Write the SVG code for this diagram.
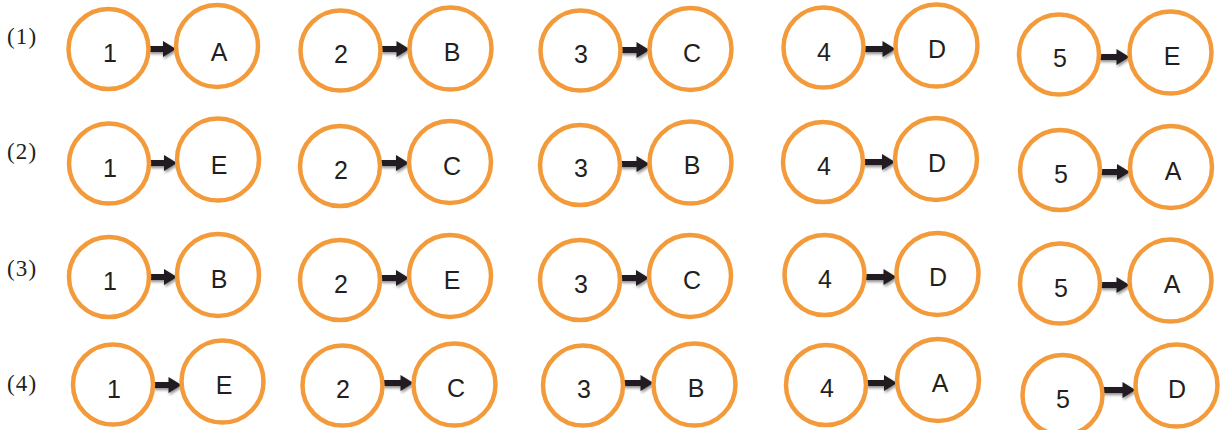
<svg xmlns="http://www.w3.org/2000/svg" width="1221" height="430" viewBox="0 0 1221 430">
<style>
.c{fill:#fff;stroke:#F39A3B;stroke-width:4.5}
.t{font-family:"Liberation Sans","Open Sans",sans-serif;font-size:25px;fill:#231F20;text-anchor:middle}
.lbl{font-family:"Liberation Serif","Times New Roman",serif;font-size:23px;fill:#231F20;letter-spacing:1.2px}
.a{fill:#231F20;filter:url(#sh)}
</style>
<defs>
<filter id="sh" x="-30%" y="-60%" width="160%" height="240%">
<feDropShadow dx="1" dy="2" stdDeviation="1.5" flood-color="#000" flood-opacity="0.45"/>
</filter>
</defs>
<g id="labels">
<text class="lbl" x="7" y="44">(1)</text>
<text class="lbl" x="7" y="159">(2)</text>
<text class="lbl" x="7" y="276">(3)</text>
<text class="lbl" x="7" y="391">(4)</text>
</g>
<g id="connectors">
<path class="a" d="M148.5 46H163V41L176 49L163 57V52H148.5Z"/>
<path class="a" d="M380.5 46H396.5V41L409.5 49L396.5 57V52H380.5Z"/>
<path class="a" d="M620.5 47H636.5V42L649.5 50L636.5 58V53H620.5Z"/>
<path class="a" d="M863.5 46H882.5V41L895.5 49L882.5 57V52H863.5Z"/>
<path class="a" d="M1099 54H1116.5V49L1129.5 57L1116.5 65V60H1099Z"/>
<path class="a" d="M149 160H164V155L177 163L164 171V166H149Z"/>
<path class="a" d="M380 160H396V155L409 163L396 171V166H380Z"/>
<path class="a" d="M620 161H636.5V156L649.5 164L636.5 172V167H620Z"/>
<path class="a" d="M863 159H882V154L895 162L882 170V165H863Z"/>
<path class="a" d="M1100 169H1117V164L1130 172L1117 180V175H1100Z"/>
<path class="a" d="M149 274H164V269L177 277L164 285V280H149Z"/>
<path class="a" d="M380 275H396V270L409 278L396 286V281H380Z"/>
<path class="a" d="M620 275H636V270L649 278L636 286V281H620Z"/>
<path class="a" d="M864.5 274H883.5V269L896.5 277L883.5 285V280H864.5Z"/>
<path class="a" d="M1100 282H1116.5V277L1129.5 285L1116.5 293V288H1100Z"/>
<path class="a" d="M153 382H168.5V377L181.5 385L168.5 393V388H153Z"/>
<path class="a" d="M382.5 380H400.5V375L413.5 383L400.5 391V386H382.5Z"/>
<path class="a" d="M623 380H640.5V375L653.5 383L640.5 391V386H623Z"/>
<path class="a" d="M866 380H884V375L897 383L884 391V386H866Z"/>
<path class="a" d="M1102.5 387H1122.5V382L1135.5 390L1122.5 398V393H1102.5Z"/>
</g>
<g id="r1n1"><circle class="c" cx="108.5" cy="49" r="40"/><text class="t" x="110" y="62">1</text></g>
<g id="r1A"><circle class="c" cx="217" cy="46" r="41"/><text class="t" x="219" y="61">A</text></g>
<g id="r1n2"><circle class="c" cx="340.5" cy="50.5" r="40"/><text class="t" x="341" y="63">2</text></g>
<g id="r1B"><circle class="c" cx="450.5" cy="48.5" r="41"/><text class="t" x="452" y="61">B</text></g>
<g id="r1n3"><circle class="c" cx="580.5" cy="50.5" r="40"/><text class="t" x="581" y="63">3</text></g>
<g id="r1C"><circle class="c" cx="690.5" cy="49" r="41"/><text class="t" x="692" y="62">C</text></g>
<g id="r1n4"><circle class="c" cx="823.5" cy="47.5" r="40"/><text class="t" x="824" y="61">4</text></g>
<g id="r1D"><circle class="c" cx="936.5" cy="45.5" r="41"/><text class="t" x="937" y="58">D</text></g>
<g id="r1n5"><circle class="c" cx="1059" cy="54.5" r="40"/><text class="t" x="1060" y="67">5</text></g>
<g id="r1E"><circle class="c" cx="1170.5" cy="52.5" r="41"/><text class="t" x="1172" y="65">E</text></g>
<g id="r2n1"><circle class="c" cx="109" cy="163.5" r="40"/><text class="t" x="110" y="177">1</text></g>
<g id="r2E"><circle class="c" cx="218" cy="159.5" r="41"/><text class="t" x="219" y="174">E</text></g>
<g id="r2n2"><circle class="c" cx="340" cy="166" r="40"/><text class="t" x="341" y="179">2</text></g>
<g id="r2C"><circle class="c" cx="450" cy="162" r="41"/><text class="t" x="452" y="175">C</text></g>
<g id="r2n3"><circle class="c" cx="580" cy="165" r="40"/><text class="t" x="581" y="177">3</text></g>
<g id="r2B"><circle class="c" cx="690.5" cy="162.5" r="41"/><text class="t" x="692" y="174">B</text></g>
<g id="r2n4"><circle class="c" cx="823" cy="162" r="40"/><text class="t" x="824" y="175">4</text></g>
<g id="r2D"><circle class="c" cx="936" cy="159" r="41"/><text class="t" x="937" y="172">D</text></g>
<g id="r2n5"><circle class="c" cx="1060" cy="170" r="40"/><text class="t" x="1061" y="183">5</text></g>
<g id="r2A"><circle class="c" cx="1171" cy="167" r="41"/><text class="t" x="1173" y="180">A</text></g>
<g id="r3n1"><circle class="c" cx="109" cy="277" r="40"/><text class="t" x="110" y="290">1</text></g>
<g id="r3B"><circle class="c" cx="218" cy="275" r="41"/><text class="t" x="219" y="288">B</text></g>
<g id="r3n2"><circle class="c" cx="340" cy="280" r="40"/><text class="t" x="341" y="293">2</text></g>
<g id="r3E"><circle class="c" cx="450" cy="276" r="41"/><text class="t" x="452" y="289">E</text></g>
<g id="r3n3"><circle class="c" cx="580" cy="280" r="40"/><text class="t" x="581" y="293">3</text></g>
<g id="r3C"><circle class="c" cx="690" cy="276" r="41"/><text class="t" x="692" y="289">C</text></g>
<g id="r3n4"><circle class="c" cx="824.5" cy="275" r="40"/><text class="t" x="825" y="288">4</text></g>
<g id="r3D"><circle class="c" cx="937.5" cy="274" r="41"/><text class="t" x="938" y="286">D</text></g>
<g id="r3n5"><circle class="c" cx="1060" cy="283.5" r="40"/><text class="t" x="1061" y="297">5</text></g>
<g id="r3A"><circle class="c" cx="1170.5" cy="280.5" r="41"/><text class="t" x="1172" y="293">A</text></g>
<g id="r4n1"><circle class="c" cx="113" cy="384.5" r="40"/><text class="t" x="114" y="398">1</text></g>
<g id="r4E"><circle class="c" cx="222.5" cy="381.5" r="41"/><text class="t" x="224" y="394">E</text></g>
<g id="r4n2"><circle class="c" cx="342.5" cy="385.5" r="40"/><text class="t" x="343" y="398">2</text></g>
<g id="r4C"><circle class="c" cx="454.5" cy="384.5" r="41"/><text class="t" x="456" y="397">C</text></g>
<g id="r4n3"><circle class="c" cx="583" cy="385.5" r="40"/><text class="t" x="584" y="398">3</text></g>
<g id="r4B"><circle class="c" cx="694.5" cy="384.5" r="41"/><text class="t" x="696" y="397">B</text></g>
<g id="r4n4"><circle class="c" cx="826" cy="385" r="40"/><text class="t" x="827" y="397">4</text></g>
<g id="r4A"><circle class="c" cx="938" cy="380" r="41"/><text class="t" x="940" y="392">A</text></g>
<g id="r4n5"><circle class="c" cx="1062.5" cy="395" r="40"/><text class="t" x="1063" y="408">5</text></g>
<g id="r4D"><circle class="c" cx="1176.5" cy="385.5" r="41"/><text class="t" x="1177" y="398">D</text></g>
</svg>
